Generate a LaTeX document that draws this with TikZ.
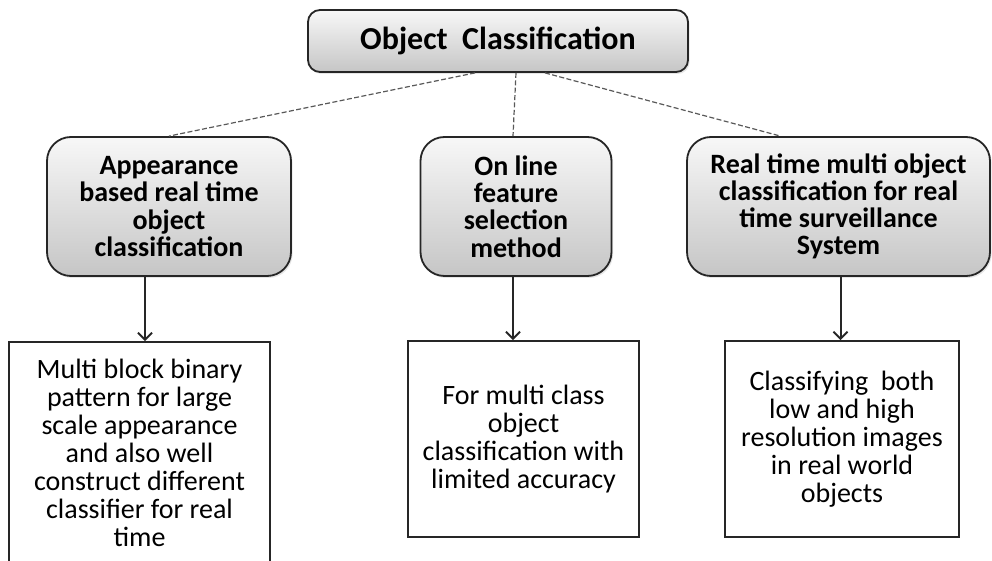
\documentclass[tikz,border=0pt]{standalone}
\usepackage{fontspec}
\setmainfont{Carlito}
\usetikzlibrary{shadows,arrows.meta}

\begin{document}
\begin{tikzpicture}[x=0.5pt,y=-0.5pt,
    heading/.style ={rounded corners=6pt, draw=black!85, line width=0.9pt,
      top color=gray!6, bottom color=gray!45,
      drop shadow={opacity=0.2, shadow xshift=0.8pt, shadow yshift=-1pt},
      font=\bfseries\fontsize{16}{18}\selectfont, inner sep=0pt},
    method/.style ={heading, rounded corners=12pt, align=center,
      font=\bfseries\fontsize{14}{13.6}\selectfont, minimum height=69.5pt},
    detail/.style ={draw=black!85, line width=0.9pt, align=center,
      font=\fontsize{14}{14}\selectfont, inner sep=0pt},
    link/.style ={draw=black!65, line width=0.6pt, dash pattern=on 2.5pt off 1.2pt},
    lead/.style ={draw=black!85, line width=1pt, -{Straight Barb[length=3.5pt,width=7pt]}}]
   \useasboundingbox (0,0) rectangle (992,561);
   \node[heading, minimum width=190pt, minimum height=31pt] (OC) at (498,41) {Object\ \ Classification};
   \node[method, minimum width=122pt] (AB) at (169,206.5) {Appearance\\based real time\\object\\classification};
   \node[method, minimum width=95.5pt] (OL) at (516,206.5) {On line\\feature\\selection\\method};
   \node[method, minimum width=151.5pt] (RT) at (838.5,206.5) {Real time multi object\\classification for real\\time surveillance\\System};
   \node[detail, minimum width=130.5pt, minimum height=111pt] (MB) at (139.5,453) {Multi block binary\\pattern for large\\scale appearance\\and also well\\construct different\\classifier for real\\time};
   \node[detail, minimum width=115.5pt, minimum height=98pt] (MC) at (523.5,439) {For multi class\\object\\classification with\\limited accuracy};
   \node[detail, minimum width=117pt, minimum height=98pt] (CL) at (842,439) {Classifying\ \ both\\low and high\\resolution images\\in real world\\objects};
   \draw[link] ([xshift=-11.5pt]OC.south) to (AB.north);
   \draw[link] (OL.north |- OC.south) to ([xshift=-1.5pt]OL.north);
   \draw[link] ([xshift=23.5pt]OC.south) to ([xshift=-29pt]RT.north);
   \draw[lead] ([xshift=-12pt]AB.south) to ([xshift=-12pt]AB.south |- MB.north);
   \draw[lead] ([xshift=-1.5pt]OL.south) to ([xshift=-1.5pt]OL.south |- MC.north);
   \draw[lead] ([xshift=1pt]RT.south) to ([xshift=1pt]RT.south |- CL.north);
 \end{tikzpicture}
\end{document}
